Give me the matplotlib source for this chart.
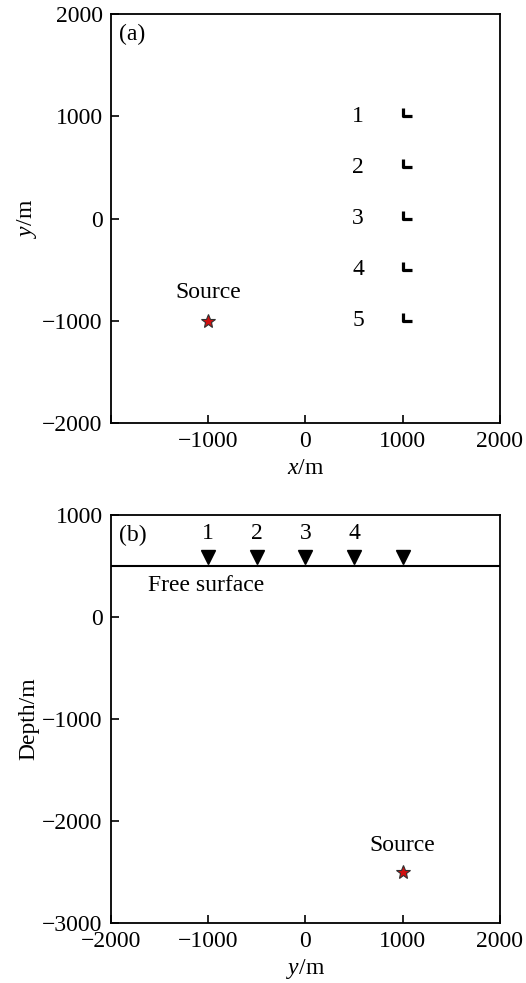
import matplotlib.pyplot as plt
from matplotlib.path import Path
import numpy as np

# ------------------------ #
# DATA
# ------------------------ #

# panel (a): plan view
rec_a_x = [1000, 1000, 1000, 1000, 1000]
rec_a_y = [1000, 500, 0, -500, -1000]
rec_a_labels = ["1", "2", "3", "4", "5"]
src_a = (-1000, -1000)

# panel (b): depth section
rec_b_x = [-1000, -500, 0, 500, 1000]
rec_b_z = [590, 590, 590, 590, 590]
rec_b_labels = ["1", "2", "3", "4"]
free_surface_z = 500
src_b = (1000, -2500)

xticks = [-2000, -1000, 0, 1000, 2000]
yticks_a = [-2000, -1000, 0, 1000, 2000]
yticks_b = [-3000, -2000, -1000, 0, 1000]

# ------------------------ #
# PLOTTING
# ------------------------ #

plt.rcParams["font.family"] = ["Liberation Serif", "DejaVu Serif"]
plt.rcParams["mathtext.fontset"] = "custom"
plt.rcParams["mathtext.it"] = "Liberation Serif:italic"
plt.rcParams["mathtext.rm"] = "Liberation Serif"
fs = 17

fig = plt.figure(figsize=(5.26, 9.83), dpi=100)
ax_a = fig.add_axes([0.211, 0.5697, 0.7395, 0.416])
ax_b = fig.add_axes([0.211, 0.061, 0.7395, 0.415])

# L-shaped receiver marker (corner sits on the receiver position)
l_marker = Path([(0, 0.85), (0, 0), (1, 0)], [Path.MOVETO, Path.LINETO, Path.LINETO])

ax_a.plot(rec_a_x, rec_a_y, linestyle="none", marker=l_marker, markersize=13,
          markeredgewidth=2.3, color="black", markerfacecolor="none")
for xx, yy, lab in zip(rec_a_x, rec_a_y, rec_a_labels):
    ax_a.text(xx - 460, yy, lab, fontsize=fs, ha="center", va="center")
ax_a.plot(*src_a, marker="*", markersize=10, markerfacecolor="#d01010",
          markeredgecolor="#303030", markeredgewidth=0.8)
ax_a.text(src_a[0], src_a[1] + 280, "Source", fontsize=fs, ha="center", va="center")
ax_a.text(0.02, 0.975, "(a)", transform=ax_a.transAxes, fontsize=fs, ha="left", va="top")

ax_a.set(xlim=[-2000, 2000], ylim=[-2000, 2000], xticks=xticks, yticks=yticks_a)
ax_a.set_xticklabels(["" if t == -2000 else ("\u2212" + str(-t) if t < 0 else str(t)) for t in xticks])
ax_a.set_yticklabels(["\u2212" + str(-t) if t < 0 else str(t) for t in yticks_a])
ax_a.set_xlabel("$\\mathit{x}$/m", fontsize=fs, labelpad=4)
ax_a.set_ylabel("$\\mathit{y}$/m", fontsize=fs, labelpad=2)

# panel (b)
ax_b.axhline(free_surface_z, color="black", linewidth=1.5)
ax_b.plot(rec_b_x, rec_b_z, linestyle="none", marker="v", markersize=9.5, color="black")
for xx, zz, lab in zip(rec_b_x, rec_b_z, rec_b_labels):
    ax_b.text(xx, zz + 230, lab, fontsize=fs, ha="center", va="center")
ax_b.text(-1620, 314, "Free surface", fontsize=fs, ha="left", va="center")
ax_b.plot(*src_b, marker="*", markersize=10, markerfacecolor="#d01010",
          markeredgecolor="#303030", markeredgewidth=0.8)
ax_b.text(src_b[0], src_b[1] + 265, "Source", fontsize=fs, ha="center", va="center")
ax_b.text(0.02, 0.975, "(b)", transform=ax_b.transAxes, fontsize=fs, ha="left", va="top")

ax_b.set(xlim=[-2000, 2000], ylim=[-3000, 1000], xticks=xticks, yticks=yticks_b)
ax_b.set_xticklabels(["\u2212" + str(-t) if t < 0 else str(t) for t in xticks])
ax_b.set_yticklabels(["\u2212" + str(-t) if t < 0 else str(t) for t in yticks_b])
ax_b.set_xlabel("$\\mathit{y}$/m", fontsize=fs, labelpad=3)
ax_b.set_ylabel("Depth/m", fontsize=fs, labelpad=2)

for ax in (ax_a, ax_b):
    ax.tick_params(direction="in", length=5.5, width=1.2, labelsize=fs, pad=6,
                   top=False, right=False)
    for sp in ax.spines.values():
        sp.set_linewidth(1.3)

plt.savefig("out.png", dpi=100)
